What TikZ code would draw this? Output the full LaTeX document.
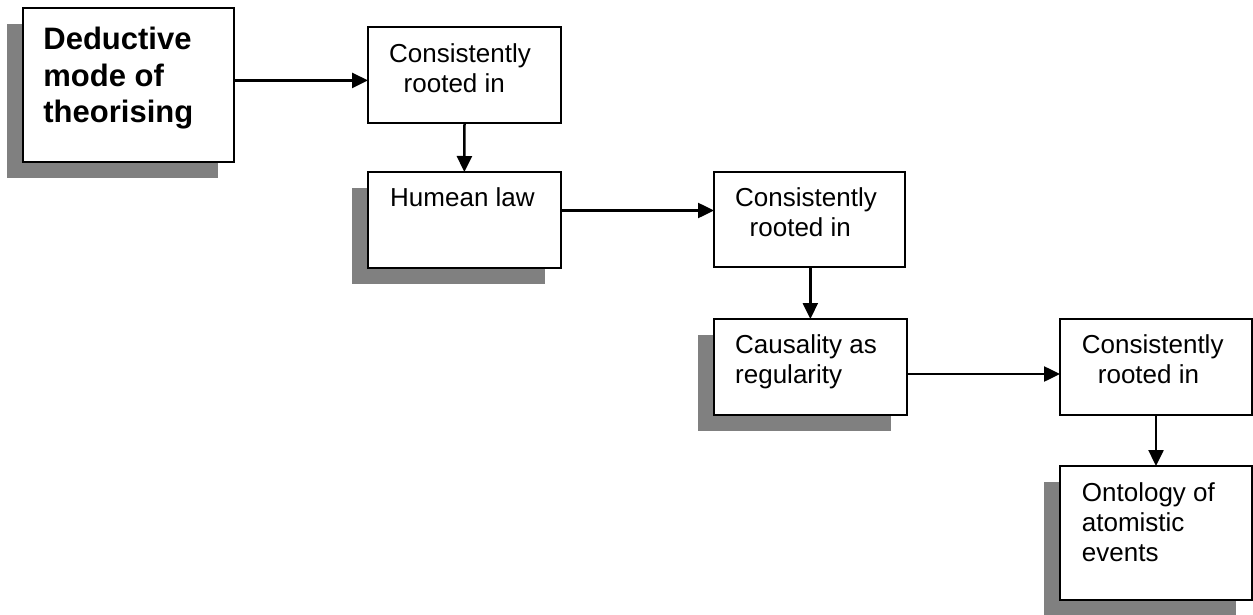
\documentclass[tikz,border=0pt]{standalone}
\usepackage{fontspec}
\setmainfont{Liberation Sans}
\usetikzlibrary{arrows.meta,positioning,shadows}
\definecolor{shadegray}{HTML}{808080}

\begin{document}
\begin{tikzpicture}[x=1pt,y=-1pt,
  box/.style={draw,line width=2pt,fill=white,inner sep=0pt,outer sep=0pt,anchor=north west},
  shadowed/.style={box,drop shadow={shadow xshift=-16pt,shadow yshift=-16pt,fill=shadegray,opacity=1}},
  txt/.style={font=\fontsize{26}{30}\selectfont,align=left,inner sep=0pt},
  bigtxt/.style={font=\fontsize{31}{36.5}\selectfont\bfseries,align=left,inner sep=0pt},
  arr/.style={line width=2.5pt,-{Triangle[length=16pt,width=15pt]}}
]
  \useasboundingbox (0,0) rectangle (1253,615);

  % boxes
  \node[shadowed,minimum width=211.6pt,minimum height=154pt] (deduct) at (22.7,8) {};
  \node[box,minimum width=193pt,minimum height=95.8pt] (root1) at (368,27.5) {};
  \node[shadowed,minimum width=192.7pt,minimum height=95.7pt] (humean) at (368,172) {};
  \node[box,minimum width=191pt,minimum height=95pt] (root2) at (714,172) {};
  \node[shadowed,minimum width=192.7pt,minimum height=96pt] (causal) at (714,319) {};
  \node[box,minimum width=192pt,minimum height=96pt] (root3) at (1060,319) {};
  \node[shadowed,minimum width=192pt,minimum height=134pt] (onto) at (1060,466) {};

  % texts
  \node[bigtxt,below right=19pt and 20.5pt of deduct.north west] (deductT) {Deductive\\mode of\\theorising};
  \node[txt,below right=15.5pt and 21pt of root1.north west] (root1T) {Consistently\\\hspace{14.5pt}rooted in};
  \node[txt,below right=15.5pt and 22pt of humean.north west] (humeanT) {Humean law};
  \node[txt,below right=15.5pt and 21pt of root2.north west] (root2T) {Consistently\\\hspace{14.5pt}rooted in};
  \node[txt,below right=15.5pt and 21pt of causal.north west] (causalT) {Causality as\\regularity};
  \node[txt,below right=15.5pt and 21.7pt of root3.north west] (root3T) {Consistently\\\hspace{16pt}rooted in};
  \node[txt,below right=16.5pt and 21.7pt of onto.north west] (ontoT) {Ontology of\\atomistic\\events};

  % arrows
  \draw[arr] ([yshift=-5pt]root1.west -| deduct.east) -- ([yshift=-5pt]root1.west);
  \draw[arr] (root1.south) -- (humean.north);
  \draw[arr] ([yshift=9pt]root2.west -| humean.east) -- ([yshift=9pt]root2.west);
  \draw[arr] (causal.north |- root2.south) -- (causal.north);
  \draw[arr] ([yshift=-7pt]root3.west -| causal.east) -- ([yshift=-7pt]root3.west);
  \draw[arr] (root3.south) -- (onto.north);
\end{tikzpicture}
\end{document}
